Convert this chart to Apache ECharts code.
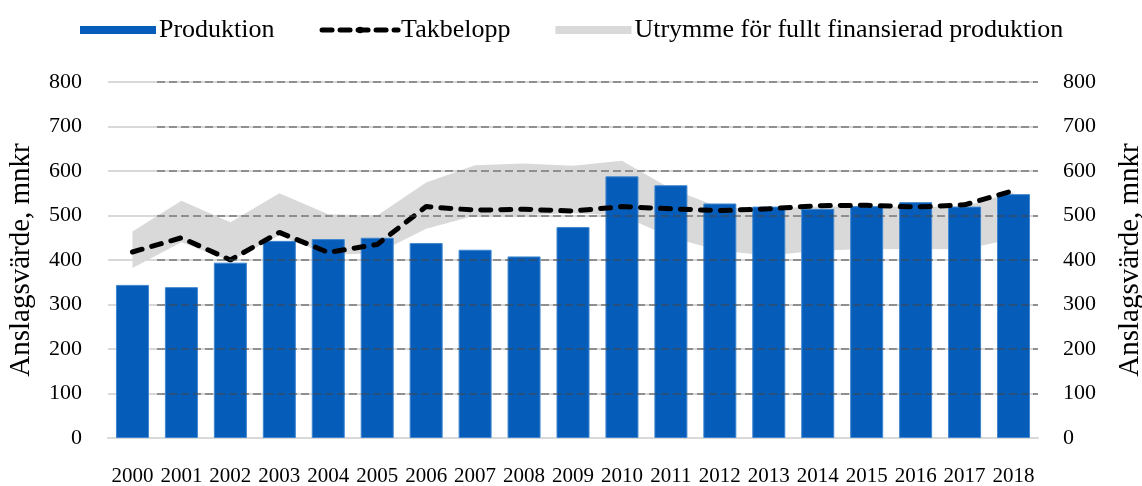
<!DOCTYPE html>
<html>
<head>
<meta charset="utf-8">
<script src="https://cdn.jsdelivr.net/npm/echarts@6/dist/echarts.min.js"></script>
<style>
  html, body { margin: 0; padding: 0; background: #fff; }
  #chart { width: 1142px; height: 486px; }
</style>
</head>
<body>
<div id="chart"></div>
<script>
// years on the x axis
var years = ['2000', '2001', '2002', '2003', '2004', '2005', '2006', '2007', '2008', '2009',
  '2010', '2011', '2012', '2013', '2014', '2015', '2016', '2017', '2018']
// Produktion (bars)
var produktion = [344, 339, 394, 443, 447, 450, 438, 423, 408, 474,
  588, 568, 527, 520, 515, 521, 530, 520, 548]
// Takbelopp (dashed line)
var takbelopp = [418, 450, 400, 462, 417, 435, 520, 512, 514, 510,
  520, 515, 511, 515, 522, 523, 519, 524, 556]
// Utrymme band, lower and upper edge
var bandLow = [382, 440, 398, 455, 412, 415, 470, 500, 501, 505,
  500, 451, 421, 410, 421, 425, 424, 425, 447]
var bandHigh = [464, 533, 485, 550, 503, 500, 574, 613, 617, 612,
  623, 560, 518, 515, 520, 521, 519, 521, 552]
var yTicks = [0, 100, 200, 300, 400, 500, 600, 700, 800]

var bandSpan = bandHigh.map(function (v, i) { return v - bandLow[i] })

var font = 'Liberation Serif'
var chart = echarts.init(document.getElementById('chart'))

chart.setOption({
  animation: false,
  textStyle: { fontFamily: font, color: '#000' },
  legend: {
    left: 75,
    top: 12,
    itemWidth: 76,
    itemHeight: 8,
    itemGap: 45,
    itemStyle: { borderWidth: 0 },
    lineStyle: { width: 5, type: [10, 8], cap: 'round' },
    textStyle: { fontFamily: font, fontSize: 26, color: '#000', padding: [0, 0, 0, -2] },
    data: [
      { name: 'Produktion', icon: 'rect' },
      { name: 'Takbelopp' },
      { name: 'Utrymme för fullt finansierad produktion', icon: 'rect' }
    ]
  },
  grid: [
    { left: 108, right: 104, top: 82, bottom: 48, outerBoundsMode: 'none' },
    { left: 157, right: 104, top: 82, bottom: 48, outerBoundsMode: 'none' }
  ],
  xAxis: [
    {
      type: 'category',
      data: years,
      gridIndex: 0,
      axisTick: { show: false },
      axisLine: { lineStyle: { color: '#d9d9d9', width: 2 } },
      axisLabel: { fontFamily: font, fontSize: 21, color: '#000', margin: 28, interval: 0 }
    },
    {
      type: 'category',
      data: years,
      gridIndex: 1,
      show: false
    }
  ],
  yAxis: [
    {
      type: 'value',
      gridIndex: 0,
      min: yTicks[0],
      max: yTicks[yTicks.length - 1],
      interval: 100,
      name: 'Anslagsvärde, mnkr',
      nameLocation: 'middle',
      nameRotate: 90,
      nameGap: 72,
      nameTextStyle: { fontFamily: font, fontSize: 29, color: '#000' },
      axisLine: { show: false },
      axisTick: { show: false },
      axisLabel: { fontFamily: font, fontSize: 22, color: '#000', margin: 26 },
      splitLine: { lineStyle: { color: '#d9d9d9', width: 2 } }
    },
    {
      type: 'value',
      gridIndex: 0,
      position: 'right',
      min: yTicks[0],
      max: yTicks[yTicks.length - 1],
      interval: 100,
      name: 'Anslagsvärde, mnkr',
      nameLocation: 'middle',
      nameRotate: 90,
      nameGap: 78,
      nameTextStyle: { fontFamily: font, fontSize: 29, color: '#000' },
      axisLine: { show: false },
      axisTick: { show: false },
      axisLabel: { fontFamily: font, fontSize: 22, color: '#000', margin: 25 },
      splitLine: { show: false }
    },
    {
      // dashed gridlines drawn over the bars
      type: 'value',
      gridIndex: 1,
      min: yTicks[0],
      max: yTicks[yTicks.length - 1],
      interval: 100,
      z: 10,
      axisLine: { show: false },
      axisTick: { show: false },
      axisLabel: { show: false },
      splitLine: {
        showMinLine: false,
        lineStyle: { color: 'rgba(70,70,70,0.5)', width: 2, type: [8, 4] }
      }
    }
  ],
  series: [
    {
      name: 'bandLow',
      type: 'line',
      stack: 'band',
      data: bandLow,
      symbol: 'none',
      lineStyle: { width: 0, opacity: 0 },
      areaStyle: { opacity: 0 },
      silent: true,
      z: 1
    },
    {
      name: 'Utrymme för fullt finansierad produktion',
      type: 'line',
      stack: 'band',
      data: bandSpan,
      symbol: 'none',
      itemStyle: { color: '#d9d9d9' },
      lineStyle: { width: 0, opacity: 0 },
      areaStyle: { color: '#d9d9d9', opacity: 1 },
      z: 1
    },
    {
      name: 'Produktion',
      type: 'bar',
      data: produktion,
      barWidth: 33,
      itemStyle: { color: '#065DB9', borderColor: '#3f86cf', borderWidth: 1 },
      z: 2
    },
    {
      name: 'Takbelopp',
      type: 'line',
      data: takbelopp,
      symbol: 'none',
      itemStyle: { color: '#000' },
      lineStyle: { color: '#000', width: 5, type: [10, 10], cap: 'round' },
      z: 3
    }
  ]
})
</script>
</body>
</html>
